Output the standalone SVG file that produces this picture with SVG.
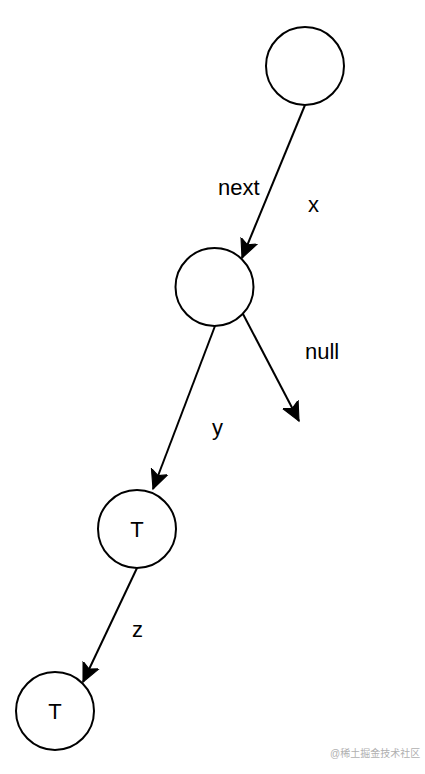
<svg xmlns="http://www.w3.org/2000/svg" width="425" height="774" viewBox="0 0 425 774">
<style>
.node{fill:#fff;stroke:#000;stroke-width:2}
.edge{stroke:#000;stroke-width:2;fill:none}
.lbl{font-family:"Liberation Sans",Arial,sans-serif;font-size:22px;fill:#000}
.wm{font-family:"Liberation Sans","Noto Sans CJK SC",sans-serif;font-size:10px;fill:#b0b0b0}
</style>
<defs>
<marker id="arr" markerUnits="userSpaceOnUse" markerWidth="22" markerHeight="22" refX="17" refY="8" orient="auto" viewBox="0 0 20 16">
<path d="M0,0 L17,8 L0,16 L4,8 Z" fill="#000" stroke="#000" stroke-width="1"/>
</marker>
</defs>
<g id="connectors">
<line class="edge" x1="305" y1="105" x2="242" y2="258" marker-end="url(#arr)"/>
<line class="edge" x1="215" y1="326" x2="153" y2="489" marker-end="url(#arr)"/>
<line class="edge" x1="243" y1="314" x2="299" y2="421" marker-end="url(#arr)"/>
<line class="edge" x1="137" y1="568" x2="83" y2="682" marker-end="url(#arr)"/>
</g>
<g id="n1"><circle class="node" cx="305" cy="66" r="39"/></g>
<g id="n2"><circle class="node" cx="214.5" cy="287" r="39"/></g>
<g id="n3"><circle class="node" cx="137" cy="529" r="39"/><text class="lbl" x="137" y="537" text-anchor="middle">T</text></g>
<g id="n4"><circle class="node" cx="55" cy="711" r="39"/><text class="lbl" x="55" y="719" text-anchor="middle">T</text></g>
<g id="labels">
<text class="lbl" x="218" y="195">next</text>
<text class="lbl" x="308" y="212">x</text>
<text class="lbl" x="305" y="359">null</text>
<text class="lbl" x="212" y="435">y</text>
<text class="lbl" x="132" y="637">z</text>
</g>
<text class="wm" x="330" y="757">@稀土掘金技术社区</text>
</svg>
